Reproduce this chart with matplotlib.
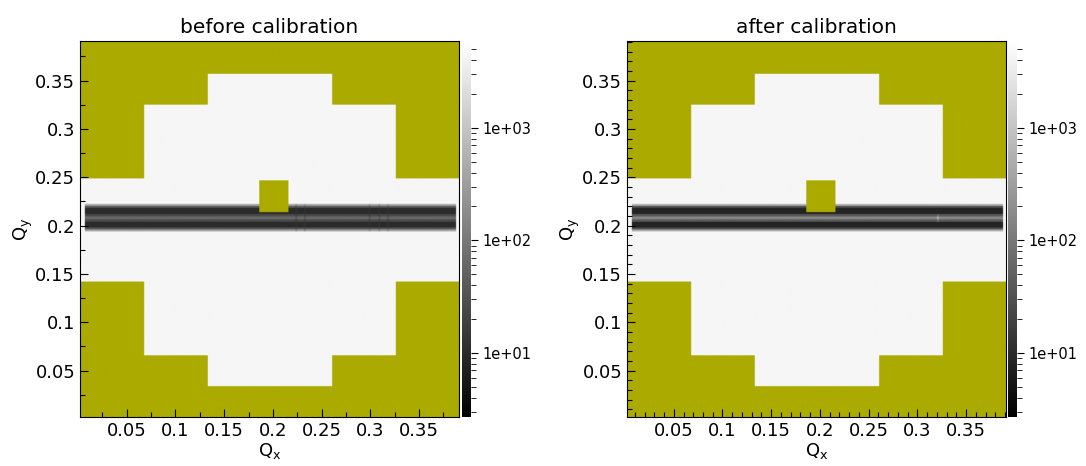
import numpy as np
import matplotlib
matplotlib.use('Agg')
import matplotlib.pyplot as plt
from matplotlib.colors import LogNorm
from matplotlib.ticker import MultipleLocator, LogLocator, FormatStrFormatter, NullFormatter, FuncFormatter

# q range covered by the detector image (same on both axes)
q_min, q_max = 0.002, 0.391

# detector footprint: rectangles (x0, x1, y0, y1) that hold data
footprint = [
    (0.133, 0.261, 0.034, 0.357),
    (0.068, 0.326, 0.066, 0.325),
    (0.002, 0.391, 0.142, 0.249),
]
# beam stop (masked)
beamstop = (0.186, 0.216, 0.214, 0.247)

background = 4500

# specular band: lower edge of each row, top of last row, counts per row
band_rows_y = [0.1940, 0.1960, 0.1980, 0.2040, 0.2065, 0.2095, 0.2120, 0.2185, 0.2205]
band_top = 0.2225
band_x = (0.007, 0.388)
band_before = [400, 40, 10, 25, 60, 25, 10, 40, 400]
band_after = [500, 30, 8, 40, 150, 40, 8, 30, 500]

# columns where the band is disturbed
streaks_before = [0.224, 0.233, 0.299, 0.309, 0.318]
streak_band_before = [200, 30, 12, 18, 35, 18, 12, 30, 200]
streaks_after = [0.321]
streak_band_after = [500, 30, 8, 80, 500, 80, 8, 30, 500]

titles = ['before calibration', 'after calibration']
cbar_ticks = [10, 100, 1000]
vmin, vmax = 2.7, 5900


def build_image(band, streak_x, streak_band, n=780):
    c = q_min + (np.arange(n) + 0.5) * (q_max - q_min) / n
    X, Y = np.meshgrid(c, c)
    img = np.full((n, n), float(background))
    inside = np.zeros((n, n), dtype=bool)
    for x0, x1, y0, y1 in footprint:
        inside |= (X >= x0) & (X <= x1) & (Y >= y0) & (Y <= y1)
    row = np.searchsorted(band_rows_y, Y, side='right') - 1
    in_band = (Y >= band_rows_y[0]) & (Y < band_top) & (X >= band_x[0]) & (X <= band_x[1])
    img[in_band] = np.array(band, dtype=float)[row[in_band]]
    for sx in streak_x:
        col = in_band & (np.abs(X - sx) < 0.001)
        img[col] = np.array(streak_band, dtype=float)[row[col]]
    x0, x1, y0, y1 = beamstop
    stop = (X >= x0) & (X <= x1) & (Y >= y0) & (Y <= y1)
    return np.ma.masked_array(img, ~inside | stop)


images = [build_image(band_before, streaks_before, streak_band_before),
          build_image(band_after, streaks_after, streak_band_after)]

cmap = plt.get_cmap('gray').copy()
cmap.set_bad('#aaaa00')

fig = plt.figure(figsize=(10.86, 4.66), dpi=100)
W, H = 1086, 466
ax_left = [80, 627]
cb_left = [462, 1008]
minor_steps = [0.025, 0.01]

for i in range(2):
    ax = fig.add_axes([ax_left[i] / W, 49 / H, 379 / W, 376 / H])
    im = ax.imshow(images[i], origin='lower', extent=[q_min, q_max, q_min, q_max],
                   aspect='auto', cmap=cmap, norm=LogNorm(vmin=vmin, vmax=vmax),
                   interpolation='bilinear')
    ax.set_xlim(q_min, q_max)
    ax.set_ylim(q_min, q_max)
    ax.set_title(titles[i], fontsize=14.5, pad=6)
    ax.set_xlabel(r'Q$_{\mathrm{x}}$', fontsize=13, labelpad=1)
    ax.set_ylabel(r'Q$_{\mathrm{y}}$', fontsize=13, labelpad=0)
    for axis in (ax.xaxis, ax.yaxis):
        axis.set_major_locator(MultipleLocator(0.05))
        axis.set_minor_locator(MultipleLocator(minor_steps[i]))
        axis.set_major_formatter(FuncFormatter(lambda v, p: '%g' % round(v, 3)))
    ax.tick_params(which='both', direction='in', top=False, right=False, labelsize=13)
    ax.tick_params(which='major', length=6, width=0.8)
    ax.tick_params(which='minor', length=3.5, width=0.8)

    cax = fig.add_axes([cb_left[i] / W, 49 / H, 9 / W, 376 / H])
    cb = fig.colorbar(im, cax=cax)
    cb.outline.set_visible(False)
    cb.set_ticks(cbar_ticks)
    cax.yaxis.set_major_formatter(FormatStrFormatter('%.0e'))
    cax.yaxis.set_minor_locator(LogLocator(base=10, subs=np.arange(2, 10)))
    cax.yaxis.set_minor_formatter(NullFormatter())
    cax.tick_params(which='major', length=5, width=0.8, labelsize=10.5, pad=3)
    cax.tick_params(which='minor', length=3.5, width=0.6)

fig.savefig('out.png', dpi=100)
